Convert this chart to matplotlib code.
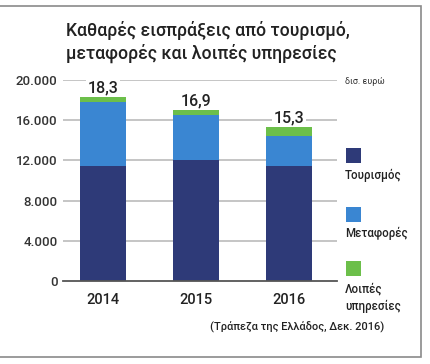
import matplotlib
matplotlib.use("Agg")
import matplotlib.pyplot as plt
from matplotlib.patches import Rectangle

plt.rcParams['font.family'] = ['Roboto', 'DejaVu Sans']

years = ["2014", "2015", "2016"]
tourism = [11450, 12000, 11450]
transport = [6320, 4510, 3000]
other = [530, 460, 830]
totals = ["18,3", "16,9", "15,3"]
yticks = [0, 4000, 8000, 12000, 16000, 20000]
ytick_labels = ["0", "4.000", "8.000", "12.000", "16.000", "20.000"]
series_names = ["Τουρισμός", "Μεταφορές", "Λοιπές\nυπηρεσίες"]
colors = ["#2e3a78", "#3a86d2", "#6cbf4a"]

W, H = 430, 364
fig = plt.figure(figsize=(W / 100, H / 100), dpi=100)
fig.patch.set_facecolor("white")

def fx(px):
    return px / W

def fy(py):
    return 1 - py / H

# frame
fig.patches.append(Rectangle((fx(-5), fy(357)), fx(421) - fx(-5), fy(6) - fy(357),
                             transform=fig.transFigure, fill=False,
                             edgecolor="#8a8a8a", linewidth=1.2))

ax = fig.add_axes([fx(63), fy(281), fx(337) - fx(63), fy(80) - fy(281)])
x = list(range(len(years)))
width = 0.495
bottom2 = [a + b for a, b in zip(tourism, transport)]
tops = [a + b for a, b in zip(bottom2, other)]
ax.bar(x, tourism, width, color=colors[0], zorder=3)
ax.bar(x, transport, width, bottom=tourism, color=colors[1], zorder=3)
ax.bar(x, other, width, bottom=bottom2, color=colors[2], zorder=3)

ax.set_xlim(-0.43, 2.516)
ax.set_ylim(0, 20000)
for yv in yticks[1:]:
    ax.axhline(yv, color="#b5b5b5", linewidth=1.1, zorder=1)
ax.axhline(0, color="#555555", linewidth=1.3, zorder=4, clip_on=False)

for xi, t, lab in zip(x, tops, totals):
    ax.annotate(lab, (xi, t), xytext=(0, 1.5), textcoords="offset points",
                ha="center", va="bottom", fontsize=11.5, color="#222222",
                fontweight="medium", zorder=5,
                bbox=dict(boxstyle="square,pad=0.12", fc="white", ec="none"))

for s in ax.spines.values():
    s.set_visible(False)
ax.set_yticks(yticks)
ax.set_yticklabels(ytick_labels, fontsize=9.5, color="#333333", fontweight="medium")
ax.set_xticks(x)
ax.set_xticklabels(years, fontsize=10.5, color="#222222", fontweight="medium")
ax.tick_params(axis="both", length=0)
ax.tick_params(axis="y", pad=4)
ax.tick_params(axis="x", pad=9)

fig.text(fx(66), fy(31), "Καθαρές εισπράξεις από τουρισμό,", fontsize=12.7,
         color="#222222", va="center", ha="left", fontweight="medium")
fig.text(fx(66), fy(53), "μεταφορές και λοιπές υπηρεσίες", fontsize=12.7,
         color="#222222", va="center", ha="left", fontweight="medium")

fig.text(fx(345), fy(81), "δισ. ευρώ", fontsize=6.5, color="#333333",
         va="center", ha="left")

sq_tops = [148, 207, 261]
txt_y = [175, 233, 298]
for name, c, st, ty in zip(series_names, colors, sq_tops, txt_y):
    fig.patches.append(Rectangle((fx(346), fy(st + 15)), fx(15), fy(0) - fy(15),
                                 transform=fig.transFigure, facecolor=c,
                                 edgecolor="none"))
    fig.text(fx(345), fy(ty), name, fontsize=8.3, color="#222222",
             va="center", ha="left", linespacing=1.4, fontweight="medium")

fig.text(fx(384), fy(327), "(Τράπεζα της Ελλάδος, Δεκ. 2016)", fontsize=7.9,
         color="#222222", va="center", ha="right", fontweight="medium")

fig.savefig("out.png", dpi=100, facecolor="white")
